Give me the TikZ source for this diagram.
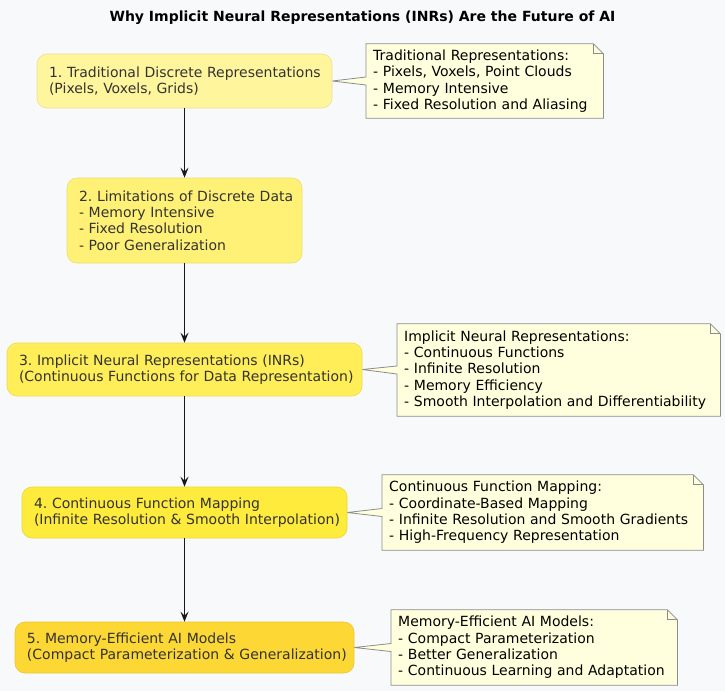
\documentclass[tikz,border=0pt]{standalone}
\usepackage{fontspec}
\setmainfont{DejaVu Sans}
\usetikzlibrary{arrows.meta,backgrounds}
\frenchspacing
\definecolor{bg}{HTML}{F8F9FB}
\definecolor{cA}{HTML}{FFF59D}
\definecolor{cB}{HTML}{FFF176}
\definecolor{cC}{HTML}{FFEE58}
\definecolor{cD}{HTML}{FFEB3B}
\definecolor{cE}{HTML}{FDD835}
\definecolor{notefill}{HTML}{FFFFDD}
\definecolor{noteline}{HTML}{8C8C8C}
\definecolor{arrowc}{HTML}{181818}
\definecolor{txt}{HTML}{333333}
\begin{document}
\frenchspacing
\begin{tikzpicture}[x=1pt,y=-1pt,
  stepbox/.style={rectangle, rounded corners=10pt, inner xsep=12pt, inner ysep=0pt, align=left, text=txt, font=\frenchspacing\fontsize{14}{16.3}\selectfont, line width=0.6pt},
  notebox/.style={rectangle, inner xsep=7pt, inner ysep=0pt, align=left, text=black, font=\frenchspacing\fontsize{14}{16.3}\selectfont},
  flow/.style={-{Stealth[length=10pt,width=8pt,inset=4pt]}, line width=1pt, draw=arrowc},
  noteshape/.style={fill=notefill, draw=noteline, line width=0.8pt, line join=miter},
  foldline/.style={draw=noteline, line width=0.8pt}
]
\begin{scope}[on background layer]
\fill[bg] (0,0) rectangle (725,691);
\end{scope}
\useasboundingbox (0,0) rectangle (725,691);

\node[font=\bfseries\fontsize{14}{16}\selectfont] (title) at (362.5,18) {Why Implicit Neural Representations (INRs) Are the Future of AI};

\node[stepbox, fill=cA, draw=cA!92!black, minimum width=295pt, minimum height=54pt, text width=271pt] (s1) at (184.5,81)
  {\mbox{1. Traditional Discrete Representations}\\\mbox{(Pixels, Voxels, Grids)}};
\node[stepbox, fill=cB, draw=cB!92!black, minimum width=235pt, minimum height=85pt, text width=211pt] (s2) at (184.5,220.5)
  {\mbox{2. Limitations of Discrete Data}\\\mbox{- Memory Intensive}\\\mbox{- Fixed Resolution}\\\mbox{- Poor Generalization}};
\node[stepbox, fill=cC, draw=cC!92!black, minimum width=355pt, minimum height=53pt, text width=331pt] (s3) at (184.5,369.5)
  {\mbox{3. Implicit Neural Representations (INRs)}\\\mbox{(Continuous Functions for Data Representation)}};
\node[stepbox, fill=cD, draw=cD!92!black, minimum width=325pt, minimum height=51pt, text width=301pt] (s4) at (184.5,512.5)
  {\mbox{4. Continuous Function Mapping}\\\mbox{(Infinite Resolution \& Smooth Interpolation)}};
\node[stepbox, fill=cE, draw=cE!92!black, minimum width=339pt, minimum height=51pt, text width=315pt] (s5) at (184.5,647.5)
  {\mbox{5. Memory-Efficient AI Models}\\\mbox{(Compact Parameterization \& Generalization)}};

\draw[flow] (s1) -- (s2);
\draw[flow] (s2) -- (s3);
\draw[flow] (s3) -- (s4);
\draw[flow] (s4) -- (s5);

\node[notebox, anchor=west, minimum width=237pt, minimum height=74pt, text width=223pt] (n1) at (366,81)
  {\mbox{Traditional Representations:}\\\mbox{- Pixels, Voxels, Point Clouds}\\\mbox{- Memory Intensive}\\\mbox{- Fixed Resolution and Aliasing}};
\node[notebox, anchor=west, minimum width=323pt, minimum height=92pt, text width=309pt] (n2) at (397,370)
  {\mbox{Implicit Neural Representations:}\\\mbox{- Continuous Functions}\\\mbox{- Infinite Resolution}\\\mbox{- Memory Efficiency}\\\mbox{- Smooth Interpolation and Differentiability}};
\node[notebox, anchor=west, minimum width=321pt, minimum height=75pt, text width=307pt] (n3) at (382,512.5)
  {\mbox{Continuous Function Mapping:}\\\mbox{- Coordinate-Based Mapping}\\\mbox{- Infinite Resolution and Smooth Gradients}\\\mbox{- High-Frequency Representation}};
\node[notebox, anchor=west, minimum width=286pt, minimum height=75pt, text width=272pt] (n4) at (391,647.5)
  {\mbox{Memory-Efficient AI Models:}\\\mbox{- Compact Parameterization}\\\mbox{- Better Generalization}\\\mbox{- Continuous Learning and Adaptation}};

\begin{scope}[on background layer]
\foreach \n/\s in {n1/s1,n2/s3,n3/s4,n4/s5}{
  \draw[noteshape] (\n.north west) -- ([xshift=-10pt]\n.north east) -- ([yshift=-10pt]\n.north east)
    -- (\n.south east) -- (\n.south west) -- ([yshift=-4pt]\n.west) -- (\s.east) -- ([yshift=4pt]\n.west) -- cycle;
  \draw[foldline] ([xshift=-10pt]\n.north east) -- ([xshift=-10pt,yshift=-10pt]\n.north east) -- ([yshift=-10pt]\n.north east);
}
\end{scope}
\end{tikzpicture}
\end{document}
